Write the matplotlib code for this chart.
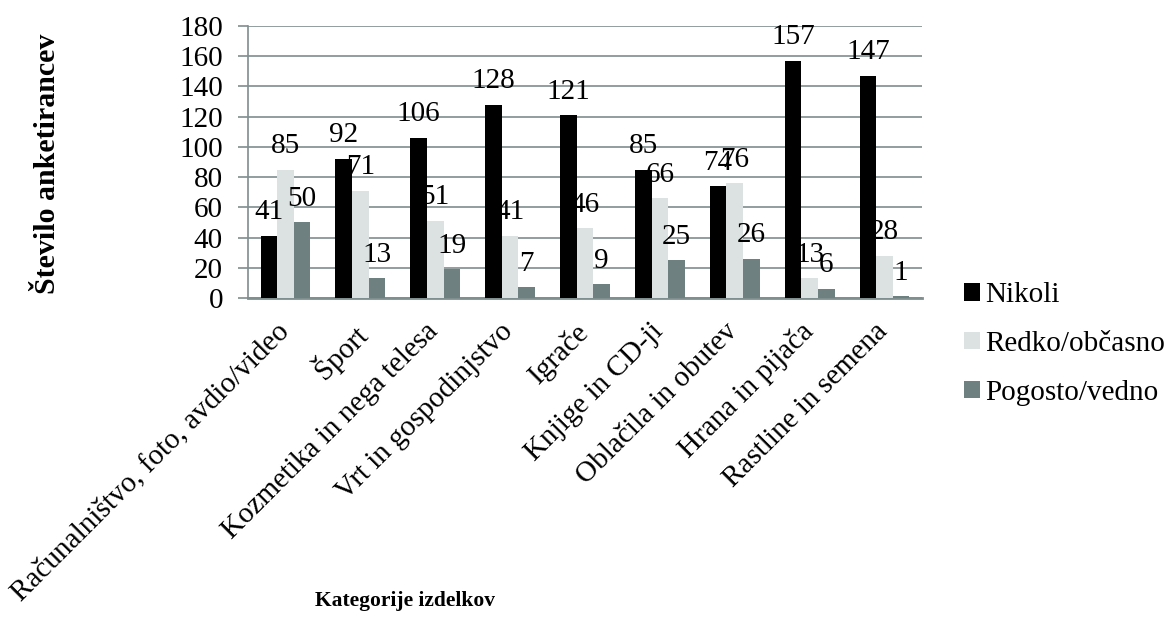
import matplotlib
matplotlib.use("Agg")
import matplotlib.pyplot as plt
from matplotlib.patches import Patch
from matplotlib.transforms import ScaledTranslation
import numpy as np

categories = [
    "Računalništvo, foto, avdio/video",
    "Šport",
    "Kozmetika in nega telesa",
    "Vrt in gospodinjstvo",
    "Igrače",
    "Knjige in CD-ji",
    "Oblačila in obutev",
    "Hrana in pijača",
    "Rastline in semena",
]
series_names = ["Nikoli", "Redko/občasno", "Pogosto/vedno"]
nikoli = [41, 92, 106, 128, 121, 85, 74, 157, 147]
redko = [85, 71, 51, 41, 46, 66, 76, 13, 28]
pogosto = [50, 13, 19, 7, 9, 25, 26, 6, 1]
y_ticks = [0, 20, 40, 60, 80, 100, 120, 140, 160, 180]

colors = ["#000000", "#dce2e2", "#6f8080"]
grid_color = "#7f8e8e"

plt.rcParams["font.family"] = ["Liberation Serif", "DejaVu Serif"]

fig = plt.figure(figsize=(11.68, 6.17), dpi=100)
ax = fig.add_axes([248 / 1168, 1 - 298 / 617, 674 / 1168, 272 / 617])

x = np.arange(len(categories))
w = 0.222
for i, (vals, col) in enumerate(zip([nikoli, redko, pogosto], colors)):
    pos = x + (i - 1) * w
    ax.bar(pos, vals, width=w, color=col, zorder=3)
    for px, v in zip(pos, vals):
        ax.annotate(str(v), (px, v), xytext=(0, 17), textcoords="offset points",
                    ha="center", va="center", fontsize=21, zorder=4)

ax.set_xlim(-0.5, len(categories) - 0.5)
ax.set_ylim(0, 180)
ax.set_yticks(y_ticks)
ax.yaxis.grid(True, color=grid_color, linewidth=1.2, zorder=0)
ax.set_axisbelow(True)
ax.tick_params(axis="y", labelsize=21, length=7, color=grid_color, width=1.2, pad=11)
ax.tick_params(axis="x", length=0, pad=6)
ax.set_xticks(x)
ax.set_xticklabels(categories, rotation=45, ha="right", va="top",
                   rotation_mode="anchor", fontsize=21)
shift = ScaledTranslation(-0.10, -0.12, fig.dpi_scale_trans)
for lab in ax.get_xticklabels():
    lab.set_transform(lab.get_transform() + shift)

for s in ["top", "right"]:
    ax.spines[s].set_visible(False)
ax.spines["left"].set_color(grid_color)
ax.spines["left"].set_linewidth(1.2)
ax.spines["bottom"].set_color(grid_color)
ax.spines["bottom"].set_linewidth(2)

fig.text(48 / 1168, 1 - 164 / 617, "Število anketirancev", rotation=90,
         ha="center", va="center", fontsize=21.5, fontweight="bold")
fig.text(405 / 1168, 1 - 601 / 617, "Kategorije izdelkov",
         ha="center", va="center", fontsize=15.5, fontweight="bold")

handles = [Patch(facecolor=c, edgecolor="none") for c in colors]
fig.legend(handles, series_names, loc="center left",
           bbox_to_anchor=(952 / 1168, 1 - 344 / 617), frameon=False,
           fontsize=21, handlelength=0.55, handleheight=0.55,
           handletextpad=0.2, labelspacing=0.78, borderaxespad=0)

fig.savefig("out.png", dpi=100)
